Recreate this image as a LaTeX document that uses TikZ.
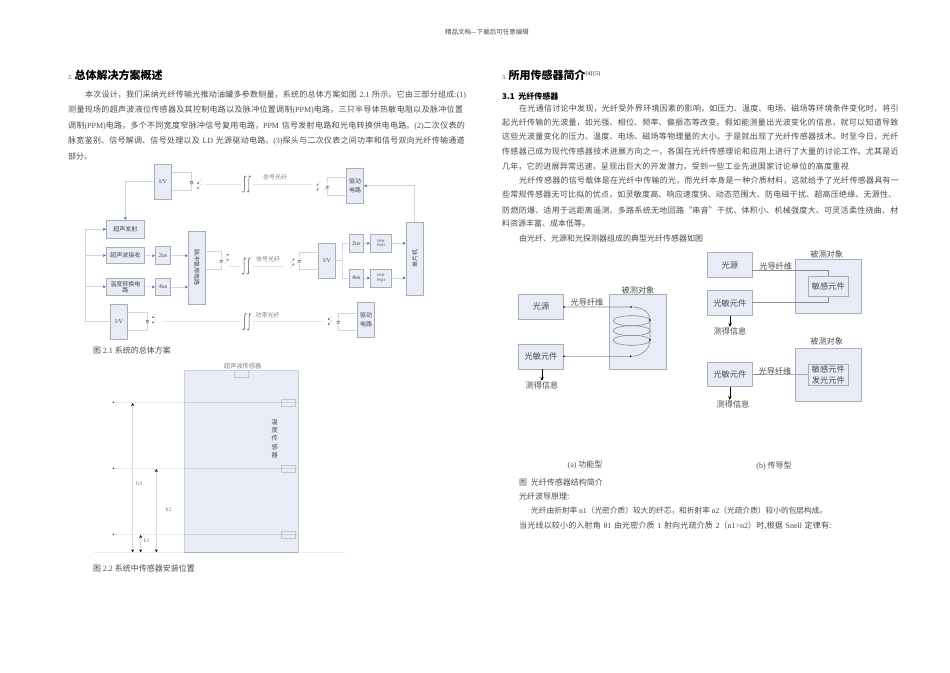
\documentclass[tikz,border=0pt]{standalone}
\usepackage{fontspec}
\usetikzlibrary{arrows.meta}
\setmainfont{Noto Sans CJK SC}
\newfontfamily\enfont{Liberation Serif}
\newcommand{\en}[1]{{\enfont #1}}
\newcommand{\jl}[1]{\parfillskip=0pt #1\par}
\newcommand{\fs}[1]{\fontsize{#1}{#1}\selectfont}
\XeTeXlinebreaklocale "zh"
\XeTeXlinebreakskip=0pt plus 1pt
\definecolor{boxfill}{HTML}{E7ECF6}
\definecolor{boxline}{HTML}{A9AEB8}
\definecolor{wirecol}{HTML}{CFD6E3}
\definecolor{tipcol}{HTML}{4A6DA8}
\definecolor{inkcol}{HTML}{4A4A4A}
\tikzset{
  bodyline/.style={anchor=west,inner sep=0pt,font=\fs{8},text=inkcol},
  capline/.style={bodyline,anchor=center},
  headline/.style={bodyline,text=black},
  blockbox/.style={draw=boxline,fill=boxfill,line width=0.8pt,inner sep=0pt,align=center,font=\fs{6},text=inkcol},
  fibbox/.style={draw=boxline,fill=boxfill,line width=0.7pt,inner sep=0pt,align=center,font=\fs{8.2},text=inkcol},
  smalltag/.style={inner sep=0pt,font=\fs{6},text=gray},
  wire/.style={draw=wirecol,line width=0.7pt},
  wiretip/.style={wire,-{Stealth[length=3pt,width=3pt,color=tipcol]}},
  fiber/.style={draw=wirecol!70,line width=0.7pt},
  cable/.style={draw=gray!90,line width=0.6pt},
  cabletip/.style={draw=black,line width=0.6pt,-{Stealth[length=4pt,width=3.5pt]}},
  dimline/.style={draw=gray!30,line width=0.5pt,{Stealth[length=3pt,width=3pt,color=black]}-{Stealth[length=3pt,width=3pt,color=black]}},
  levelline/.style={draw=gray!15,line width=0.6pt},
  diodemark/.pic={
    \draw[gray,line width=0.4pt] (-1.5,1.5) -- (1.5,1.5) -- (0,-1) -- cycle;
    \draw[gray,line width=0.4pt] (-1.5,-1.2) -- (1.5,-1.2);
  },
  raysdown/.pic={
    \draw[wire,line width=0.5pt,-{Stealth[length=2.2pt,width=2.2pt,color=tipcol]}] (2,-5) -- (-2,0);
    \draw[wire,line width=0.5pt,-{Stealth[length=2.2pt,width=2.2pt,color=tipcol]}] (2,0) -- (-2,5);
  },
  raysup/.pic={
    \draw[wire,line width=0.5pt,-{Stealth[length=2.2pt,width=2.2pt,color=tipcol]}] (-2,0) -- (2,-5);
    \draw[wire,line width=0.5pt,-{Stealth[length=2.2pt,width=2.2pt,color=tipcol]}] (-2,5) -- (2,0);
  },
  coilmark/.pic={
    \foreach \d in {0,4.5}
    {
    \draw[inkcol,line width=0.55pt] (\d-4.5,7.5) .. controls (\d-3.8,9) and (\d-2.6,8.5) .. (\d-2.6,5) -- (\d-2.6,-5) .. controls (\d-2.6,-8.5) and (\d-1.4,-9) .. (\d-0.7,-7.5);
    }
  }
}
\begin{document}
\begin{tikzpicture}[x=1pt,y=-1pt]
\useasboundingbox (0,0) rectangle (950,672);

\node[capline,font=\fs{6.5}] (pagehead) at (487,32) {精品文档---下载后可任意编辑};

\node[headline] (secleft) at (68,75) {{\fs{6}\color{inkcol}\en{2. }}{\fs{11}\bfseries 总体解决方案概述}};
\node[bodyline,text width=385pt] (pa1) at (85,95) {\jl{本次设计，我们采纳光纤传输光推动油罐多参数侧量，系统的总体方案如图 \en{2.1} 所示。它由三部分组成\en{:(1)}}};
\node[bodyline,text width=400pt] (pa2) at (68,110) {\jl{测量现场的超声波液位传感器及其控制电路以及脉冲位置调制\en{(PPM)}电路，三只半导体热敏电阻以及脉冲位置}};
\node[bodyline,text width=402pt] (pa3) at (68,126) {\jl{调制\en{(PPM)}电路，多个不同宽度窄脉冲信号复用电路，\en{PPM} 信号发射电路和光电转换供电电路。\en{(2)}二次仪表的}};
\node[bodyline,text width=401pt] (pa4) at (68,141) {\jl{脉宽鉴别、信号解调、信号处理以及 \en{LD} 光源驱动电路。\en{(3)}探头与二次仪表之间功率和信号双向光纤传输通道}};
\node[bodyline] (pa5) at (68,156) {部分。};

\node[blockbox,minimum width=17.4pt,minimum height=35pt] (ivtop) at (163,181.8) {\en{I/V}};
\node[blockbox,minimum width=17.4pt,minimum height=35pt] (drvtop) at (355,185.8) {驱动\\[3pt]电路};
\node[blockbox,minimum width=38pt,minimum height=18pt] (send) at (125.3,229.3) {超声发射};
\node[blockbox,minimum width=38pt,minimum height=16.4pt] (recv) at (125.3,255.5) {超声波接收};
\node[blockbox,minimum width=38pt,minimum height=17.3pt] (temp) at (125.3,286.7) {温度转换电\\路};
\node[blockbox,minimum width=15.4pt,minimum height=18pt] (ustwo) at (163,255.7) {\en{2us}};
\node[blockbox,minimum width=15.4pt,minimum height=17.4pt] (usfour) at (163,287) {\en{4us}};
\node[blockbox,minimum width=17.4pt,minimum height=73pt] (mux) at (197,267.8) {\rotatebox{-90}{脉冲复用电路}};
\node[blockbox,minimum width=17.4pt,minimum height=35pt] (ivmid) at (327,260.8) {\en{I/V}};
\node[blockbox,minimum width=14pt,minimum height=18pt] (rtwo) at (356.3,243.3) {\en{2us}};
\node[blockbox,minimum width=14pt,minimum height=18pt] (rfour) at (356.3,278) {\en{4us}};
\node[blockbox,minimum width=21.4pt,minimum height=18pt,font=\fs{3.6}] (ppmtwo) at (381,243.3) {\en{PPM}\\[1pt]\en{PWH}};
\node[blockbox,minimum width=21.4pt,minimum height=18pt,font=\fs{3.6}] (ppmfour) at (381,278) {\en{PPM}\\[1pt]\en{PWH}};
\node[blockbox,minimum width=17.6pt,minimum height=73pt] (mcu) at (414.8,258.8) {\rotatebox{90}{单片机}};
\node[blockbox,minimum width=17.4pt,minimum height=35pt] (ivlow) at (119,321.8) {\en{I/V}};
\node[blockbox,minimum width=17.4pt,minimum height=35pt] (drvlow) at (366,319.8) {驱动\\[3pt]电路};

\coordinate (pdtop) at (191.7,182.3);
\coordinate (ldtop) at (327,187.5);
\coordinate (ldmid) at (221,261);
\coordinate (pdmid) at (299,261);
\coordinate (pdlow) at (147.3,321.5);
\coordinate (ldlow) at (338,322);
\coordinate (bus) at (85.7,229.3);
\coordinate (split) at (342,260.8);

\draw[wire] ([yshift=9pt]ivtop.east) -| (pdtop) |- ([yshift=-9pt]ivtop.east);
\draw[wire] ([yshift=8pt]drvtop.west) -| (ldtop) |- ([yshift=-10pt]drvtop.west);
\draw[wire] ([yshift=16pt]mux.east) -| (ldmid) |- ([yshift=-1.5pt]mux.east);
\draw[wire] ([yshift=8.5pt]ivmid.west) -| (pdmid) |- ([yshift=-8.5pt]ivmid.west);
\draw[wire] ([yshift=9pt]ivlow.east) -| (pdlow) |- ([yshift=-9pt]ivlow.east);
\draw[wire] ([yshift=6.5pt]drvlow.west) -| (ldlow) |- ([yshift=-10.5pt]drvlow.west);

\foreach \p in {pdtop,ldtop,ldmid,pdmid,pdlow,ldlow}
{
\pic at (\p) {diodemark};
}
\pic at (199.3,184) {raysdown};
\pic at (318.7,185.7) {raysdown};
\pic at (226.5,258.8) {raysup};
\pic at (292.3,263.3) {raysup};
\pic at (154.3,318.3) {raysdown};
\pic at (330,320) {raysdown};

\draw[wiretip] (ivtop.west) -| (send.north);
\draw[wiretip] (ivlow.west) -| (bus) -- (send.west);
\draw[wiretip] (bus |- recv.west) -- (recv.west);
\draw[wiretip] (bus |- temp.west) -- (temp.west);
\draw[wiretip] (recv.east) -- (ustwo.west);
\draw[wiretip] (temp.east) -- (usfour.west);
\draw[wiretip] (ustwo.east) -- (mux.west |- ustwo.east);
\draw[wiretip] (usfour.east) -- (mux.west |- usfour.east);
\draw[wire] (ivmid.east) -- (split);
\draw[wire] (rtwo.west) -| (split) |- (rfour.west);
\draw[wiretip] (rtwo.east) -- (ppmtwo.west);
\draw[wiretip] (rfour.east) -- (ppmfour.west);
\draw[wiretip] (ppmtwo.east) -- (mcu.west |- ppmtwo.east);
\draw[wiretip] (ppmfour.east) -- (mcu.west |- ppmfour.east);
\draw[wiretip] (mcu.north) |- (drvtop.east);

\coordinate (xtop) at (247,184);
\coordinate (xmid) at (246.7,266);
\coordinate (xlow) at (247.3,321.7);
\foreach \p in {xtop,xmid,xlow}
{
\pic at (\p) {coilmark};
}
\coordinate (ftopa) at (205,184);
\coordinate (ftopb) at (312,184);
\coordinate (fmida) at (228,266);
\coordinate (fmidb) at (285,266);
\coordinate (flowa) at (162.7,321.7);
\coordinate (flowb) at (323,321.7);
\draw[fiber] (ftopa) -- ([xshift=-6pt]xtop);
\draw[fiber] ([xshift=6pt]xtop) -- (ftopb);
\draw[fiber] (fmida) -- ([xshift=-6pt]xmid);
\draw[fiber] ([xshift=6pt]xmid) -- (fmidb);
\draw[fiber] (flowa) -- ([xshift=-6pt]xlow);
\draw[fiber] ([xshift=6pt]xlow) -- (flowb);
\node[smalltag] (ltop) at (275,177) {信号光纤};
\node[smalltag] (lmid) at (268,259) {信号光纤};
\node[smalltag] (llow) at (267.7,315) {功率光纤};
\node[bodyline] (capone) at (93,350) {图 \en{2.1} 系统的总体方案};

\node[smalltag,font=\fs{6.2}] (lsonic) at (242.7,365.7) {超声波传感器};
\node[draw=none,fill=boxfill,inner sep=0pt,minimum width=113.4pt,minimum height=182.3pt] (tank) at (241,461.2) {};
\draw[boxline!60,line width=0.6pt] (tank.south west) |- (tank.north east) -- (tank.south east);
\draw[boxline,line width=0.8pt] (tank.south west) -- (tank.south east);
\node[draw=boxline!70,fill=boxfill,inner sep=0pt,minimum width=13.4pt,minimum height=7.3pt] (sonic) at (241,373.7) {};
\coordinate (lvc) at (113.3,402.3);
\coordinate (lvb) at (113.3,468.3);
\coordinate (lva) at (113.3,534.3);
\coordinate (basel) at (94,552.3);
\coordinate (baser) at (345,552.3);
\draw[levelline] (basel) -- (baser);
\draw[boxline,line width=0.8pt] (tank.south west) -- (tank.south east);
\foreach \p/\n in {lvc/tc,lvb/tb,lva/ta}
{
\draw[levelline] (\p) -- (tank.west |- \p);
\draw[boxline!60,line width=0.6pt] (tank.west |- \p) -- (tank.east |- \p);
\fill[black] (\p) circle (0.7pt);
\node[draw=boxline!70,inner sep=0pt,minimum width=13.4pt,minimum height=7pt] (\n) at (288,0 |- \p) {};
}
\node[inner sep=0pt,align=center,font=\fs{6.2},text=inkcol] (ltemp) at (274.7,438.5) {温\\[2pt]度\\[2pt]传\\[2pt]感\\[2pt]器};
\coordinate (hctop) at (132.7,403);
\coordinate (hbtop) at (156.3,469);
\coordinate (hatop) at (140.7,535);
\draw[dimline] (hctop) -- (hctop |- basel);
\draw[dimline] (hbtop) -- (hbtop |- basel);
\draw[dimline] (hatop) -- (hatop |- basel);
\node[smalltag,font=\fs{6}\enfont] (hc) at (139,483.7) {h3};
\node[smalltag,font=\fs{6}\enfont] (hb) at (168.7,509.7) {h2};
\node[smalltag,font=\fs{6}\enfont] (ha) at (146.7,540.7) {h1};
\node[bodyline] (captwo) at (93,568) {图 \en{2.2} 系统中传感器安装位置};

\node[headline] (secright) at (502,75) {{\fs{6}\color{inkcol}\en{3. }}{\fs{11}\bfseries 所用传感器简介}{\fs{5.5}\raisebox{3.5pt}{\en{[4] [5]}}}};
\node[headline,font=\fs{8}\bfseries] (subsec) at (502,96) {3.1\ \ 光纤传感器};
\node[bodyline,text width=384pt] (pb1) at (519,109) {\jl{在光通信讨论中发现，光纤受外界环境因素的影响，如压力、温度、电场、磁场等环境条件变化时，将引}};
\node[bodyline,text width=401pt] (pb2) at (502,123) {\jl{起光纤传输的光波量，如光强、相位、频率、偏振态等改变。假如能测量出光波变化的信息，就可以知道导致}};
\node[bodyline,text width=401pt] (pb3) at (502,137) {\jl{这些光波量变化的压力、温度、电场、磁场等物理量的大小。于是就出现了光纤传感器技术。时至今日，光纤}};
\node[bodyline,text width=401pt] (pb4) at (502,152) {\jl{传感器己成为现代传感器技术进展方向之一，各国在光纤传感理论和应用上进行了大量的讨论工作。尤其是近}};
\node[bodyline,text width=351pt] (pb5) at (502,167) {\jl{几年，它的进展异常迅速，呈现出巨大的开发潜力，受到一些工业先进国家讨论单位的高度重视}};
\node[bodyline,text width=384pt] (pb6) at (519,181) {\jl{光纤传感器的信号载体是在光纤中传输的光，而光纤本身是一种介质材料，这就给予了光纤传感器具有一}};
\node[bodyline,text width=398pt] (pb7) at (502,195) {\jl{些常规传感器无可比拟的优点，如灵敏度高、响应速度快、动态范围大、防电磁干扰、超高压绝缘、无源性、}};
\node[bodyline,text width=401pt] (pb8) at (502,210) {\jl{防燃防爆、适用于远距离遥测、多路系统无地回路“串音”干扰、体积小、机械强度大、可灵活柔性挠曲、材}};
\node[bodyline] (pb9) at (502,223) {料资源丰富、成本低等。};
\node[bodyline] (pb10) at (519,238) {由光纤、光源和光探测器组成的典型光纤传感器如图};

\node[fibbox,minimum width=45.4pt,minimum height=25pt] (fsrc) at (541,306.8) {光源};
\node[fibbox,minimum width=45.4pt,minimum height=24.7pt] (fsens) at (541,356.7) {光敏元件};
\node[fibbox,minimum width=57pt,minimum height=74.7pt] (fobj) at (637.8,331.7) {};
\node[smalltag,font=\fs{8.2},text=inkcol] (lobj) at (638,290) {被测对象};
\node[smalltag,font=\fs{8.2},text=inkcol] (lcab) at (587,302.7) {光导纤维};
\node[smalltag,font=\fs{8.2},text=inkcol] (linfo) at (542,385) {测得信息};
\coordinate (ca) at (631,307);
\coordinate (cb) at (650,320);
\coordinate (cc) at (650,340);
\coordinate (cd) at (630.7,356.3);
\draw[cable] (fsrc.east |- ca) -- (ca) .. controls (642,307) and (650,312) .. (cb) -- (cc) .. controls (650,349) and (642,356.3) .. (cd) -- (fsens.east |- cd);
\foreach \y in {320.7,330.7,340.3}
{
\draw[cable] (631.7,\y) ellipse [x radius=18.5pt,y radius=5pt];
}
\foreach \p in {ca,cb,cc,cd}
{
\fill[black] (\p) circle (0.9pt);
}
\fill[black] (fsrc.east |- ca) circle (0.9pt);
\fill[black] (fsens.east |- cd) circle (0.9pt);
\draw[cabletip] (fsens.south -| linfo) -- (linfo.north);

\node[fibbox,minimum width=45pt,minimum height=24.6pt] (tsrc) at (729.8,265) {光源};
\node[fibbox,minimum width=45pt,minimum height=24.6pt] (tsens) at (729.8,303) {光敏元件};
\node[fibbox,minimum width=66pt,minimum height=54pt] (tobj) at (828.3,286.3) {};
\node[fibbox,minimum width=40.7pt,minimum height=19.6pt] (tele) at (828.3,286.5) {敏感元件};
\node[smalltag,font=\fs{8.2},text=inkcol] (ltobj) at (826.7,254) {被测对象};
\node[smalltag,font=\fs{8.2},text=inkcol] (ltcab) at (775.7,266) {光导纤维};
\node[smalltag,font=\fs{8.2},text=inkcol] (ltinfo) at (730,331) {测得信息};
\coordinate (ta) at (752.3,270);
\coordinate (tb) at (752.3,302.3);
\draw[cable] (ta) -| (tele.north);
\draw[cable] (tb) -| (tele.south);
\draw[cabletip] (tsens.south -| ltinfo) -- (ltinfo.north);

\node[fibbox,minimum width=45pt,minimum height=24.4pt] (usens) at (729.8,374.5) {光敏元件};
\node[fibbox,minimum width=66pt,minimum height=53.4pt] (uobj) at (828.3,375) {};
\node[fibbox,minimum width=40.7pt,minimum height=20.7pt] (uele) at (828.3,374.7) {敏感元件\\[3.4pt]发光元件};
\node[smalltag,font=\fs{8.2},text=inkcol] (luobj) at (826.7,341.7) {被测对象};
\node[smalltag,font=\fs{8.2},text=inkcol] (lucab) at (775,371.7) {光导纤维};
\node[smalltag,font=\fs{8.2},text=inkcol] (luinfo) at (733,404) {测得信息};
\draw[cable] (usens.east) -- (uele.west);
\draw[cabletip] (usens.south) -- (usens.south |- luinfo.north);

\node[capline] (capa) at (585,465) {\en{(a)} 功能型};
\node[capline] (capb) at (774,466) {\en{(b)} 传导型};
\node[bodyline] (pc1) at (519,482) {图\ \ 光纤传感器结构简介};
\node[bodyline] (pc2) at (519,496) {光纤波导原理:};
\node[bodyline,font=\fs{7.7}] (pc3) at (531,511) {光纤由折射率 \en{n1}（光密介质）较大的纤芯，和折射率 \en{n2}（光疏介质）较小的包层构成。};
\node[bodyline,text width=315pt] (pc4) at (519,526) {\jl{当光线以较小的入射角 \en{θ1} 由光密介质 \en{1} 射向光疏介质 \en{2}（\en{n1>n2}）时,根据 \en{Snell} 定律有:}};
\end{tikzpicture}
\end{document}
